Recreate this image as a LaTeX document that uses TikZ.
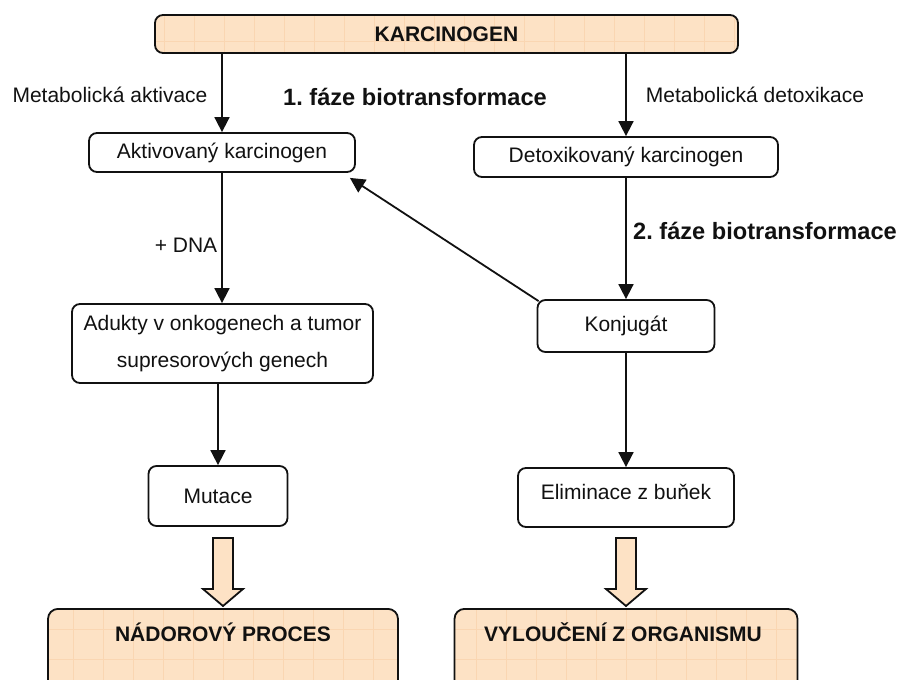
\documentclass[tikz,border=0pt]{standalone}
\usepackage{fontspec}
\setmainfont{Liberation Sans}
\frenchspacing
\usetikzlibrary{calc,arrows.meta}
\definecolor{peach}{RGB}{253,226,197}
\definecolor{peachgrid}{RGB}{250,214,178}
\definecolor{ink}{RGB}{17,17,17}
\tikzset{
 wbox/.style={draw=ink, line width=0.9pt, rounded corners=4pt, fill=white, inner sep=0pt,
   font=\fontsize{10.5}{12}\selectfont, text=ink},
 pbox/.style={wbox, fill=peach, font=\bfseries\fontsize{10.5}{12}\selectfont,
   path picture={\draw[peachgrid, line width=0.3pt, step=15pt]
     (path picture bounding box.south west) grid (path picture bounding box.north east);}},
 arr/.style={draw=ink, line width=0.9pt, -{Triangle[length=7.5pt,width=7.5pt]}},
 lbl/.style={font=\fontsize{10.5}{12}\selectfont, text=ink, inner sep=0pt},
 blbl/.style={font=\bfseries\fontsize{11.8}{14}\selectfont, text=ink, inner sep=0pt},
 bcap/.style={font=\bfseries\fontsize{10.5}{12}\selectfont, text=ink, inner sep=0pt},
 barrow/.style={draw=ink, line width=0.9pt, fill=peach, line join=miter},
}
\begin{document}
\begin{tikzpicture}[x=0.5pt,y=-0.5pt]
\useasboundingbox (0,0) rectangle (902,680);
\clip (0,0) rectangle (902,680);
% boxes
\node[pbox, minimum width=291.5pt, minimum height=19pt] (karc) at (446.5,34) {KARCINOGEN};
\node[wbox, minimum width=133pt, minimum height=19.5pt] (akt) at (222,152.5) {Aktivovaný karcinogen};
\node[wbox, minimum width=152pt, minimum height=20pt] (detox) at (626,157) {Detoxikovaný karcinogen};
\node[wbox, minimum width=150.5pt, minimum height=39.5pt, align=center,
      font=\fontsize{10.5}{18.5}\selectfont] (adu) at (222.5,343.5) {Adukty v onkogenech a tumor\\ supresorových genech};
\node[wbox, minimum width=88.5pt, minimum height=26pt] (konj) at (626,326) {Konjugát};
\node[wbox, minimum width=69.5pt, minimum height=30pt] (mut) at (218,496) {Mutace};
\node[wbox, minimum width=108pt, minimum height=29.5pt] (elim) at (626,497.5) {};
\node[lbl] (elimt) at (626,492) {Eliminace z buňek};
\node[pbox, rounded corners=5pt, minimum width=175pt, minimum height=50pt, anchor=north] (nad) at (223,608) {};
\node[bcap] (nadt) at (223,632) {NÁDOROVÝ PROCES};
\node[pbox, rounded corners=5pt, minimum width=171.5pt, minimum height=50pt, anchor=north] (vyl) at (626,608) {};
\node[bcap] (vylt) at (623,632) {VYLOUČENÍ Z ORGANISMU};
% labels
\node[lbl] (ma) at (110,95) {Metabolická aktivace};
\node[blbl] (f1) at (415,97) {1. fáze biotransformace};
\node[lbl] (md) at (755,95) {Metabolická detoxikace};
\node[blbl] (f2) at (765,231) {2. fáze biotransformace};
\node[lbl] (dna) at (186,245) {+ DNA};
% connectors
\draw[arr] (karc.south -| akt.north) -- (akt.north);
\draw[arr] (karc.south -| detox.north) -- (detox.north);
\draw[arr] (akt.south) -- (akt.south |- adu.north);
\draw[arr] (adu.south -| mut.north) -- (mut.north);
\draw[arr] (detox.south) -- (detox.south |- konj.north);
\draw[arr] (konj.south) -- (konj.south |- elim.north);
\draw[arr] ($(konj.north west)+(2,2)$) -- ($(akt.south east)+(-6,5)$);
% block arrows
\coordinate (t1) at ($(nad.north)+(0,-2)$);
\coordinate (s1) at ($(mut.south -| nad.north)+(0,11)$);
\draw[barrow] ($(s1)+(-10,0)$) -- ($(s1)+(10,0)$) -- ($(t1)+(10,-17)$) -- ($(t1)+(20,-17)$)
  -- (t1) -- ($(t1)+(-20,-17)$) -- ($(t1)+(-10,-17)$) -- cycle;
\coordinate (t2) at ($(vyl.north)+(0,-2)$);
\coordinate (s2) at ($(elim.south -| vyl.north)+(0,10)$);
\draw[barrow] ($(s2)+(-10,0)$) -- ($(s2)+(10,0)$) -- ($(t2)+(10,-17)$) -- ($(t2)+(20,-17)$)
  -- (t2) -- ($(t2)+(-20,-17)$) -- ($(t2)+(-10,-17)$) -- cycle;
\end{tikzpicture}
\end{document}
